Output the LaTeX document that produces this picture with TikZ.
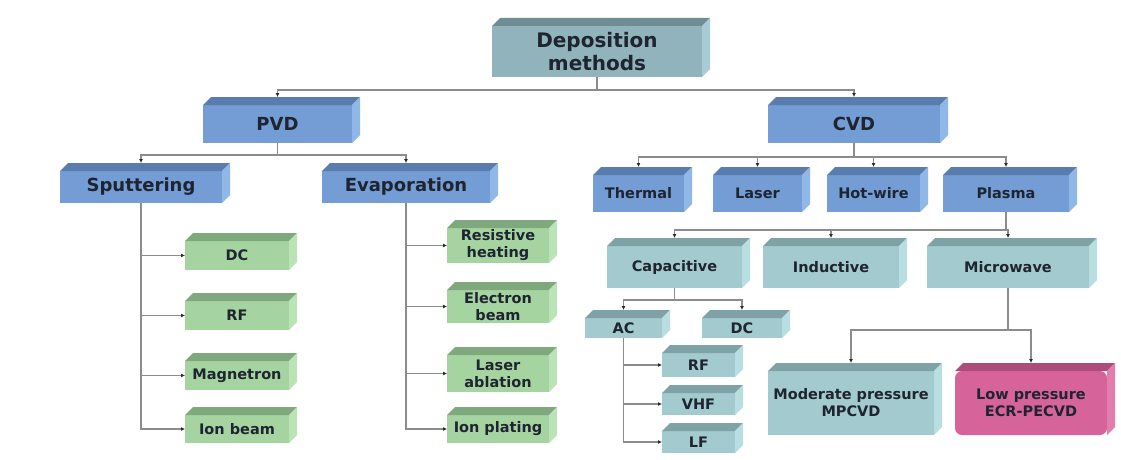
\documentclass[tikz,border=0pt]{standalone}
\usepackage{fontspec}
\newfontfamily\bxf{DejaVu Sans}
\usetikzlibrary{arrows.meta}
\definecolor{bluef}{HTML}{739DD4}\definecolor{bluet}{HTML}{5A7DAE}\definecolor{blues}{HTML}{8FB7E8}
\definecolor{grayf}{HTML}{91B3BC}\definecolor{grayt}{HTML}{6E8D95}\definecolor{grays}{HTML}{AACBD3}
\definecolor{greenf}{HTML}{A6D4A1}\definecolor{greent}{HTML}{7FA97C}\definecolor{greens}{HTML}{BCE3B7}
\definecolor{tealf}{HTML}{A3CACE}\definecolor{tealt}{HTML}{7FA2A6}\definecolor{teals}{HTML}{B9DEE1}
\definecolor{pinkf}{HTML}{D6649B}\definecolor{pinkt}{HTML}{AE4C7C}\definecolor{pinks}{HTML}{E27DAE}
\definecolor{txt}{HTML}{1E2430}
\definecolor{ln}{HTML}{8C8C8C}
\definecolor{tip}{HTML}{2A2A2A}
\newcommand\dd{8}
\newcommand\cub[8][]{%
  \pgfmathsetmacro\cubw{#6-#4-\dd}%
  \pgfmathsetmacro\cubh{#7-#5-\dd}%
  \pgfmathsetmacro\cubx{(#4+#6-\dd)/2}%
  \pgfmathsetmacro\cuby{(#5+\dd+#7)/2}%
  \node[box, fill=#3f, minimum width=\cubw pt, minimum height=\cubh pt, #1] (#2) at (\cubx,\cuby) {#8};
  \fill[#3t] (#2.north west) -- ++(\dd,-\dd) -- ([shift={(\dd,-\dd)}]#2.north east) -- (#2.north east) -- cycle;
  \fill[#3s] (#2.north east) -- ([shift={(\dd,-\dd)}]#2.north east) -- ([shift={(\dd,-\dd)}]#2.south east) -- (#2.south east) -- cycle;
}
\tikzset{
  box/.style={rectangle, inner sep=1pt, outer sep=0pt, align=center, text=txt,
    font=\bxf\bfseries\fontsize{14.5}{17}\selectfont},
  big/.style={font=\bxf\bfseries\fontsize{18}{21}\selectfont},
  huge/.style={font=\bxf\bfseries\fontsize{20}{23}\selectfont},
  conn/.style={draw=ln, line width=1.1pt, -{Latex[length=4pt,width=4pt,color=tip]}},
}
\begin{document}
\begin{tikzpicture}[x=1pt,y=-1pt]
\fill[white] (0,0) rectangle (1121,460);
\useasboundingbox (0,0) rectangle (1121,460);
% level 0/1
\cub[huge]{dep}{gray}{492}{18}{710}{77}{Deposition\\methods}
\cub[big]{pvd}{blue}{203}{97}{360}{143}{PVD}
\cub[big]{cvd}{blue}{768}{97}{948}{143}{CVD}
% PVD branch
\cub[big]{sput}{blue}{60}{163}{230}{203}{Sputtering}
\cub[big]{evap}{blue}{322}{163}{498}{203}{Evaporation}
\cub{dc}{green}{185}{233}{297}{270}{DC}
\cub{rf}{green}{185}{293}{297}{330}{RF}
\cub{mag}{green}{185}{353}{297}{390}{Magnetron}
\cub{ionb}{green}{185}{407}{297}{443}{Ion beam}
\cub{res}{green}{447}{220}{557}{263}{Resistive\\heating}
\cub{elec}{green}{447}{282}{557}{323}{Electron\\beam}
\cub{lasa}{green}{447}{347}{557}{392}{Laser\\ablation}
\cub{ionp}{green}{447}{407}{557}{443}{Ion plating}
% CVD branch
\cub{therm}{blue}{593}{167}{692}{212}{Thermal}
\cub{laser}{blue}{713}{167}{810}{212}{Laser}
\cub{hot}{blue}{827}{167}{928}{212}{Hot-wire}
\cub{plasma}{blue}{943}{167}{1077}{212}{Plasma}
\cub{cap}{teal}{607}{238}{750}{288}{Capacitive}
\cub{ind}{teal}{763}{238}{907}{288}{Inductive}
\cub{micro}{teal}{927}{238}{1097}{288}{Microwave}
\cub{ac}{teal}{585}{310}{670}{338}{AC}
\cub{dcc}{teal}{702}{310}{790}{338}{DC}
\cub{rfc}{teal}{662}{345}{743}{377}{RF}
\cub{vhf}{teal}{662}{385}{743}{415}{VHF}
\cub{lf}{teal}{662}{423}{743}{453}{LF}
\cub{mod}{teal}{768}{363}{942}{435}{Moderate pressure\\MPCVD}
\cub[rounded corners=7pt]{low}{pink}{955}{363}{1115}{435}{Low pressure\\ECR-PECVD}
% connectors
\foreach \c in {pvd,cvd} \draw[conn] (dep.south) -- ++(0,13) -| ([yshift=8pt]\c.north);
\foreach \c in {sput,evap} \draw[conn] (pvd.south) -- ++(0,12) -| ([yshift=8pt]\c.north);
\foreach \c in {dc,rf,mag,ionb} \draw[conn] (sput.south) |- (\c.west);
\foreach \c in {res,elec,lasa,ionp} \draw[conn] (evap.south) |- (\c.west);
\foreach \c in {therm,laser,hot,plasma} \draw[conn] (cvd.south) -- ++(0,14) -| ([yshift=8pt]\c.north);
\foreach \c in {cap,ind,micro} \draw[conn] (plasma.south) -- ++(0,18) -| ([yshift=8pt]\c.north);
\foreach \c in {ac,dcc} \draw[conn] (cap.south) -- ++(0,12) -| ([yshift=8pt]\c.north);
\foreach \c in {rfc,vhf,lf} \draw[conn] (ac.south) |- (\c.west);
\foreach \c in {mod,low} \draw[conn] (micro.south) -- ++(0,42) -| ([yshift=8pt]\c.north);
\end{tikzpicture}
\end{document}
